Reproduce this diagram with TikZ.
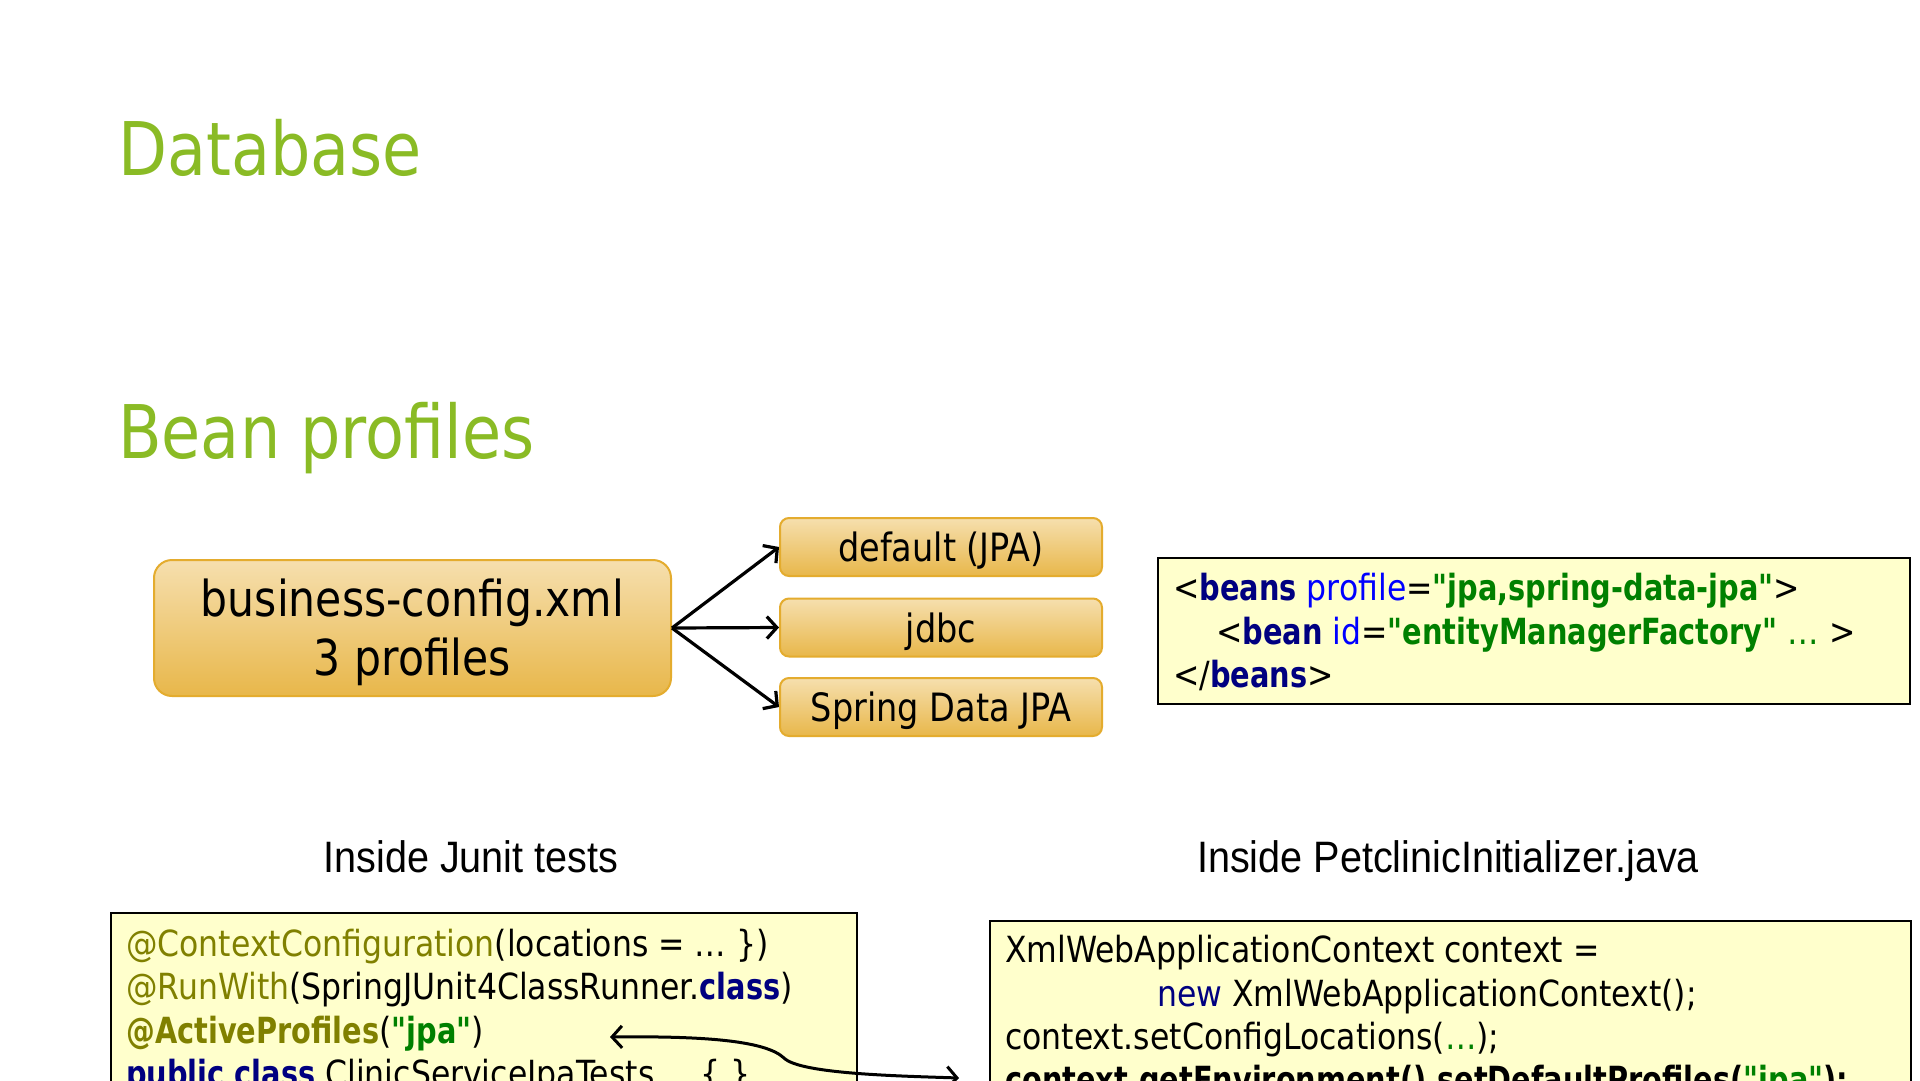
\documentclass[tikz,border=0pt]{standalone}
\usepackage{fontspec}
\setmainfont[FakeStretch=0.86]{DejaVu Sans}
\newfontfamily\codefont[FakeStretch=0.875, BoldFeatures={FakeStretch=0.80}]{DejaVu Sans}
\newfontfamily\capfont[FakeStretch=0.9]{Liberation Sans}
\usetikzlibrary{arrows.meta}
\definecolor{titlegreen}{HTML}{8ABB25}
\definecolor{boxtop}{HTML}{F6DFAE}
\definecolor{boxbot}{HTML}{E8B74A}
\definecolor{boxedge}{HTML}{E4AC2E}
\definecolor{codefill}{HTML}{FFFFCC}
\definecolor{annot}{HTML}{808000}
\definecolor{kw}{HTML}{000080}
\definecolor{str}{HTML}{008000}
\definecolor{attr}{HTML}{0000FF}
\newcommand{\KW}[1]{\textcolor{kw}{\bfseries #1}}
\newcommand{\STR}[1]{\textcolor{str}{\bfseries #1}}
\newcommand{\AN}[1]{\textcolor{annot}{#1}}
\newcommand{\AT}[1]{\textcolor{attr}{#1}}
\tikzset{
  title/.style={anchor=base west, inner sep=0pt, text=titlegreen, font=\fontsize{74}{80}\selectfont},
  goldbox/.style={draw=boxedge, line width=2pt, top color=boxtop, bottom color=boxbot, rounded corners=9pt, inner sep=0pt},
  profbox/.style={goldbox, minimum width=322pt, minimum height=58pt, text height=29pt, text depth=0pt, font=\fontsize{39}{44}\selectfont},
  boxtext/.style={anchor=base, inner sep=0pt, font=\fontsize{49.5}{59}\selectfont},
  codebox/.style={draw=black, line width=1.5pt, fill=codefill, inner sep=0pt, anchor=north west},
  codeline/.style={anchor=base west, inner sep=0pt, font=\codefont\fontsize{36}{42}\selectfont},
  caption/.style={anchor=base, inner sep=0pt, font=\capfont\fontsize{44}{50}\selectfont},
  link/.style={line width=3.2pt, -{Straight Barb[length=10pt,width=22pt]}},
  dlink/.style={line width=3pt, {Straight Barb[length=10pt,width=22pt]}-{Straight Barb[length=10pt,width=22pt]}}
}
\begin{document}
\begin{tikzpicture}[x=1pt,y=-1pt]
\useasboundingbox (0,0) rectangle (1920,1080);
\fill[white] (0,0) rectangle (1920,1080);
\begin{scope}
\clip (0,0) rectangle (1920,1080);
\node[title] (t1) at (118,175) {Database};
\node[title] (t2) at (118,458) {Bean profiles};

\node[goldbox, rounded corners=18pt, minimum width=517pt, minimum height=136pt] (main) at (412.5,628) {};
\node[boxtext] (m1) at (412.5,616) {business-config.xml};
\node[boxtext] (m2) at (412.5,675) {3 profiles};
\node[profbox] (p1) at (941,547) {default (JPA)};
\node[profbox] (p2) at (941,627.5) {jdbc};
\node[profbox] (p3) at (941,707) {Spring Data JPA};
\draw[link] (main.east) -- (p1.west);
\draw[link] (main.east) -- (p2.west);
\draw[link] (main.east) -- (p3.west);

\node[codebox, minimum width=752pt, minimum height=146pt] (xml) at (1157,557) {};
\node[codeline] (x1) at (1173,600) {<\KW{beans} \AT{profile}=\STR{"jpa,spring-data-jpa"}>};
\node[codeline] (x2) at (1216,644) {<\KW{bean} \AT{id}=\STR{"entityManagerFactory"} \textcolor{str}{…} >};
\node[codeline] (x3) at (1173,687) {</\KW{beans}>};

\node[caption] (c1) at (471,872) {Inside Junit tests};
\node[caption] (c2) at (1448,872) {Inside PetclinicInitializer.java};

\node[codebox, minimum width=746pt, minimum height=220pt] (junit) at (110,912) {};
\node[codeline] (j1) at (126,956) {\AN{@ContextConfiguration}(locations = … \})};
\node[codeline] (j2) at (126,999) {\AN{@RunWith}(SpringJUnit4ClassRunner.\KW{class})};
\node[codeline] (j3) at (126,1043) {\textcolor{annot}{\bfseries @ActiveProfiles}(\STR{"jpa"})};
\node[codeline] (j4) at (126,1086) {\KW{public class} ClinicServiceJpaTests \quad \{ \}};

\node[codebox, minimum width=921pt, minimum height=220pt] (init) at (989,920) {};
\node[codeline] (i1) at (1005,962) {XmlWebApplicationContext context =};
\node[codeline] (i2) at (1157,1006) {\textcolor{kw}{new} XmlWebApplicationContext();};
\node[codeline] (i3) at (1005,1049) {context.setConfigLocations(\textcolor{str}{…});};
\node[codeline] (i4) at (1005,1092) {\bfseries context.getEnvironment().setDefaultProfiles(\STR{"jpa"});};

\coordinate (aL) at (610,1037);
\coordinate (aR) at (959,1078);
\draw[dlink] (aL) .. controls (700,1036) and (765,1040) .. (784,1058)
                  .. controls (800,1074) and (900,1076) .. (aR);
\end{scope}
\end{tikzpicture}
\end{document}
